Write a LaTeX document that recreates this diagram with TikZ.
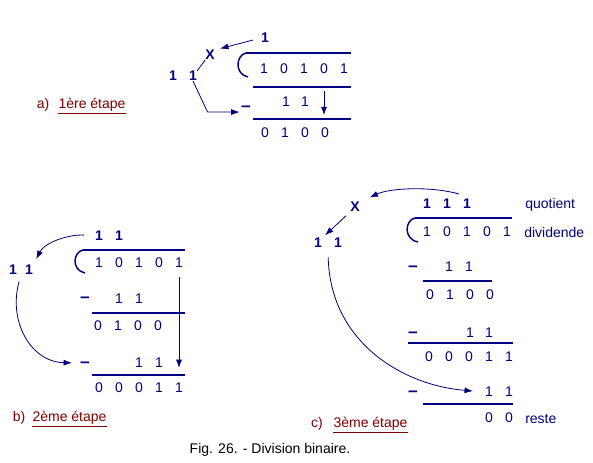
\documentclass[tikz,border=0pt]{standalone}
\usepackage{fontspec}
\setmainfont{Liberation Sans}
\usetikzlibrary{arrows.meta,calc}
\definecolor{Navy}{HTML}{000080}
\definecolor{Maroon}{HTML}{800000}
\tikzset{
  digit/.style={inner sep=0pt,text=Navy,font=\fontsize{10.5}{12}\selectfont},
  bigdigit/.style={digit,font=\bfseries\fontsize{10.5}{12}\selectfont},
  minus/.style={inner sep=0pt,text=Navy,font=\bfseries\fontsize{13}{13}\selectfont,text height=7.2pt,text depth=0pt},
  word/.style={digit,anchor=base west},
  rulebar/.style={draw=Navy,line width=1.5pt},
  bracket/.style={draw=Navy,line width=1.1pt},
  link/.style={-{Latex[length=2.2mm,width=1.6mm]},draw=Navy,line width=0.6pt},
  thinlink/.style={draw=Navy,line width=0.6pt},
  steplabel/.style={inner sep=0pt,anchor=base,text=Maroon,font=\fontsize{10.5}{12}\selectfont},
  uline/.style={draw=Maroon,line width=0.75pt}
}
\begin{document}
\begin{tikzpicture}[x=0.75pt,y=-0.75pt]
\useasboundingbox[fill=white] (0,0) rectangle (593,462);

% a) 1ere etape
\node[bigdigit] (qa) at (265,38) {1};
\node[bigdigit] (xa) at (210,55) {X};
\node[bigdigit] (la1) at (173,76) {1};
\node[bigdigit] (la2) at (193,76) {1};
\foreach \d [count=\i] in {1,0,1,0,1}
  \node[digit] (da\i) at ({244+20*\i},69) {\d};
\node[minus] (ma) at (246,107) {–};
\node[digit] (sa1) at (286,102) {1};
\node[digit] (sa2) at (305,102) {1};
\foreach \d [count=\i] in {0,1,0,0}
  \node[digit] (ra\i) at ({245+20*\i},133) {\d};
\draw[bracket] (246,53) .. controls (236,55) and (234,74) .. (248,77);
\draw[rulebar] (246,53) -- (351,53);
\draw[rulebar] (253,87) -- (351,87);
\draw[rulebar] (253,119) -- (351,119);
\draw[link,shorten <=6pt,shorten >=4pt] (qa.west) -- (xa.north east);
\draw[thinlink] (xa.south west) -- (la2.north east);
\draw[link] (la2.south) -- ([xshift=-25pt]ma.south west) -- ([xshift=-1pt]ma.south west);
\draw[link,shorten <=12.5pt,shorten >=9.5pt] (da4.south) -- (da4.south |- ra4.north);
\node[steplabel] (pa) at (43,108) {a)};
\node[steplabel] (ta) at (92,108) {1ère étape};
\draw[uline] ([yshift=-3.75pt]ta.base west) -- ([yshift=-3.75pt]ta.base east);

% b) 2eme etape
\node[bigdigit] (qb1) at (99,236) {1};
\node[bigdigit] (qb2) at (119,236) {1};
\node[bigdigit] (lb1) at (13,270) {1};
\node[bigdigit] (lb2) at (29,270) {1};
\foreach \d [count=\i] in {1,0,1,0,1}
  \node[digit] (db\i) at ({79+20*\i},263) {\d};
\node[minus] (mb1) at (85,298) {–};
\node[digit] (sb1) at (119,299) {1};
\node[digit] (sb2) at (139,299) {1};
\foreach \d [count=\i] in {0,1,0,0}
  \node[digit] (rb\i) at ({78+20*\i},326) {\d};
\node[minus] (mb2) at (85,363) {–};
\node[digit] (tb1) at (139,363) {1};
\node[digit] (tb2) at (159,363) {1};
\foreach \d [count=\i] in {0,0,0,1,1}
  \node[digit] (eb\i) at ({79+20*\i},388) {\d};
\draw[bracket] (83,250) .. controls (73,252) and (71,270) .. (85,273);
\draw[rulebar] (83,250) -- (185,250);
\draw[rulebar] (92,313) -- (185,313);
\draw[rulebar] (92,375) -- (185,375);
\draw[link,shorten <=8pt,shorten >=5pt] (qb1.west) .. controls (70,234) and (45,242) .. (lb2.north east);
\draw[link,shorten <=5pt,shorten >=6pt] ($(lb1.south)!0.5!(lb2.south)$) .. controls (8,320) and (30,362) .. (mb2.west);
\draw[link,shorten <=6.75pt,shorten >=11.25pt] (db5.south) -- (db5.south |- eb5.north);
\node[steplabel] (pb) at (19,421) {b)};
\node[steplabel] (tb) at (69.5,421) {2ème étape};
\draw[uline] ([yshift=-3.75pt]tb.base west) -- ([yshift=-3.75pt]tb.base east);

% c) 3eme etape
\foreach \i in {1,2,3}
  \node[bigdigit] (qc\i) at ({407+20*\i},204) {1};
\node[word] (quo) at (525,208) {quotient};
\node[bigdigit] (xc) at (355,207) {X};
\node[bigdigit] (lc1) at (318,243) {1};
\node[bigdigit] (lc2) at (338,243) {1};
\foreach \d [count=\i] in {1,0,1,0,1}
  \node[digit] (dc\i) at ({407+20*\i},232) {\d};
\node[word] (dvd) at (524,237) {dividende};
\node[minus] (mc1) at (413,267) {–};
\node[digit] (sc1) at (449,267) {1};
\node[digit] (sc2) at (469,267) {1};
\foreach \d [count=\i] in {0,1,0,0}
  \node[digit] (rc\i) at ({410+20*\i},295) {\d};
\node[minus] (mc2) at (413,333) {–};
\node[digit] (tc1) at (470,333) {1};
\node[digit] (tc2) at (489,333) {1};
\foreach \d [count=\i] in {0,0,0,1,1}
  \node[digit] (ec\i) at ({409+20*\i},357) {\d};
\node[minus] (mc3) at (413,392) {–};
\node[digit] (fc1) at (489,392) {1};
\node[digit] (fc2) at (509,392) {1};
\node[digit] (gc1) at (489,418) {0};
\node[digit] (gc2) at (509,418) {0};
\node[word] (rst) at (525,423) {reste};
\draw[bracket] (415,218) .. controls (405,220) and (403,239) .. (418,242);
\draw[rulebar] (415,218) -- (512,218);
\draw[rulebar] (423,281) -- (492,281);
\draw[rulebar] (408,343) -- (513,343);
\draw[rulebar] (423,404) -- (513,404);
\draw[link,shorten >=8pt] ($(qc3.north west)+(-4,-5)$) .. controls (430,186) and (390,188) .. (xc.north east);
\draw[link,shorten <=4pt,shorten >=3pt] (xc.south west) -- (lc1.north east);
\draw[link,shorten <=7pt,shorten >=9pt] ($(lc1.south)!0.5!(lc2.south)$) .. controls (330,340) and (400,385) .. (fc1.west);
\node[steplabel] (pc) at (317,427) {c)};
\node[steplabel] (tc) at (370.5,427) {3ème étape};
\draw[uline] ([yshift=-3.75pt]tc.base west) -- ([yshift=-3.75pt]tc.base east);

\node[anchor=base,inner sep=0pt,font=\fontsize{10.5}{12}\selectfont] (cap) at (270,453) {Fig. 26. - Division binaire.};
\end{tikzpicture}
\end{document}
